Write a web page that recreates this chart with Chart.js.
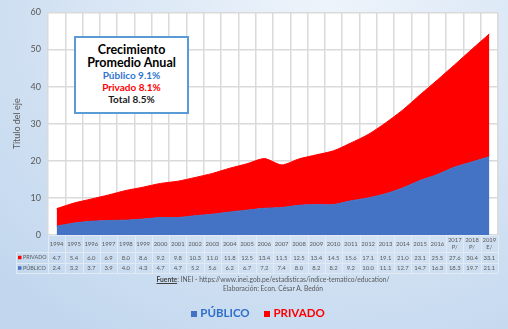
<!DOCTYPE html>
<html lang="es">
<head>
<meta charset="utf-8">
<title>Matrícula pública y privada</title>
<script src="https://cdn.jsdelivr.net/npm/chart.js@4.4.1/dist/chart.umd.min.js"></script>
<style>
  body { margin: 0; }
  #wrap {
    position: relative; width: 508px; height: 329px; overflow: hidden;
    background: radial-gradient(ellipse 90% 120% at 65% 0%, #eef4fb 0%, #d6e4f4 55%, #c2d7ee 100%);
    font-family: Lato, "Open Sans", sans-serif;
  }
  #chart { position: absolute; left: 0; top: 0; }
  #growth {
    position: absolute; left: 74px; top: 36px; width: 111px; height: 69px;
    background: #fff; border: 2px solid #5b9bd5; text-align: center;
    font-weight: bold; line-height: 12px; padding-top: 5px;
  }
  #growth .big { font-size: 12.5px; color: #000; line-height: 13px; }
  #growth .small { font-size: 10px; }
  #source {
    position: absolute; left: 0; width: 546px; top: 275px; text-align: center;
    font-size: 6.7px; line-height: 9px; color: #595959;
  }
  #source b { text-decoration: underline; color: #404040; }
  #legend {
    position: absolute; top: 304px; left: 0; width: 516px; text-align: center;
    font-size: 11.5px; font-weight: bold; line-height: 18px;
  }
  #legend span { margin: 0 6px; }
  #legend i { display: inline-block; width: 6px; height: 6px; margin-right: 3px; vertical-align: 0px; }
</style>
</head>
<body>
<div id="wrap">
  <canvas id="chart" width="508" height="329"></canvas>
  <div id="growth">
    <div class="big">Crecimiento</div>
    <div class="big">Promedio Anual</div>
    <div class="small" style="color:#2e75d0">Público 9.1%</div>
    <div class="small" style="color:#ff0000">Privado 8.1%</div>
    <div class="small" style="color:#1a1a1a">Total 8.5%</div>
  </div>
  <div id="source">
    <div><b>Fuente</b>: INEI - https://www.inei.gob.pe/estadisticas/indice-tematico/education/</div>
    <div>Elaboración: Econ. César A. Bedón</div>
  </div>
  <div id="legend">
    <span style="color:#2e6fc9"><i style="background:#4472c4"></i>PÚBLICO</span>
    <span style="color:#ff0000"><i style="background:#ff0000"></i>PRIVADO</span>
  </div>
</div>
<script>
// enrolment by sector, 1994-2019 (2017-2018 provisional, 2019 estimated)
const years = ['1994', '1995', '1996', '1997', '1998', '1999', '2000', '2001', '2002', '2003',
  '2004', '2005', '2006', '2007', '2008', '2009', '2010', '2011', '2012', '2013',
  '2014', '2015', '2016', '2017', '2018', '2019'];
const yearNotes = ['', '', '', '', '', '', '', '', '', '', '', '', '', '', '', '', '', '', '', '', '', '', '', 'P/', 'P/', 'E/'];
const privado = [4.7, 5.4, 6.0, 6.9, 8.0, 8.6, 9.2, 9.8, 10.3, 11.0, 11.8, 12.5, 13.4,
  11.5, 12.5, 13.4, 14.5, 15.6, 17.1, 19.1, 21.0, 23.1, 25.5, 27.6, 30.4, 33.1];
const publico = [2.4, 3.2, 3.7, 3.9, 4.0, 4.3, 4.7, 4.7, 5.2, 5.6, 6.2, 6.7, 7.2,
  7.4, 8.0, 8.2, 8.2, 9.2, 10.0, 11.1, 12.7, 14.7, 16.3, 18.3, 19.7, 21.1];
const yTicks = [0, 10, 20, 30, 40, 50, 60];

const BLUE = '#4472c4';
const RED = '#ff0000';
const GRID = '#dadada';
const TEXT = '#595959';

// white plot background behind the areas
const plotBackground = {
  id: 'plotBackground',
  beforeDraw(chart) {
    const { ctx, chartArea: a } = chart;
    ctx.save();
    ctx.fillStyle = '#fff';
    ctx.fillRect(a.left, a.top, a.right - a.left, a.bottom - a.top);
    ctx.restore();
  },
};

// data table under the x axis, columns follow the category scale
const dataTable = {
  id: 'dataTable',
  afterDraw(chart) {
    const { ctx, chartArea: a, scales: { x } } = chart;
    const colW = (a.right - a.left) / years.length;
    const rows = [a.bottom, a.bottom + 17, a.bottom + 27.5, a.bottom + 38];
    const tableLeft = 16;
    ctx.save();
    ctx.strokeStyle = '#e2eaf4';
    ctx.lineWidth = 1;
    ctx.beginPath();
    for (let i = 0; i <= years.length; i++) {
      const px = Math.round(a.left + i * colW) + 0.5;
      ctx.moveTo(px, rows[0]);
      ctx.lineTo(px, rows[3]);
    }
    ctx.moveTo(tableLeft + 0.5, rows[1]);
    ctx.lineTo(tableLeft + 0.5, rows[3]);
    rows.forEach((ry, k) => {
      const yy = Math.round(ry) + 0.5;
      ctx.moveTo(k === 0 ? a.left : tableLeft, yy);
      ctx.lineTo(a.right, yy);
    });
    ctx.stroke();

    ctx.fillStyle = TEXT;
    ctx.font = '5.9px Lato, sans-serif';
    ctx.textAlign = 'center';
    ctx.textBaseline = 'middle';
    years.forEach((yr, i) => {
      const cx = x.getPixelForValue(i);
      if (yearNotes[i]) {
        ctx.fillText(yr, cx, rows[0] + 5);
        ctx.fillText(yearNotes[i], cx, rows[0] + 12.5);
      } else {
        ctx.fillText(yr, cx, rows[0] + 9);
      }
      ctx.fillText(privado[i].toFixed(1), cx, (rows[1] + rows[2]) / 2 + 0.5);
      ctx.fillText(publico[i].toFixed(1), cx, (rows[2] + rows[3]) / 2 + 0.5);
    });

    // series keys
    const keys = [['PRIVADO', RED, (rows[1] + rows[2]) / 2], ['PÚBLICO', BLUE, (rows[2] + rows[3]) / 2]];
    ctx.textAlign = 'left';
    ctx.font = '5.4px Lato, sans-serif';
    keys.forEach(([name, color, cy]) => {
      ctx.fillStyle = color;
      ctx.fillRect(18, cy - 1.5, 3.5, 3.5);
      ctx.fillStyle = TEXT;
      ctx.fillText(name, 23, cy + 0.5);
    });
    ctx.restore();
  },
};

function initChart() {
  const ctx = document.getElementById('chart').getContext('2d');
  new Chart(ctx, {
    type: 'line',
    data: {
      labels: years,
      datasets: [
        {
          label: 'PÚBLICO',
          data: publico,
          backgroundColor: BLUE,
          borderColor: BLUE,
          borderWidth: 1,
          fill: 'origin',
          tension: 0.25,
          pointRadius: 0,
        },
        {
          label: 'PRIVADO',
          data: privado,
          backgroundColor: RED,
          borderColor: RED,
          borderWidth: 1,
          fill: '-1',
          tension: 0.25,
          pointRadius: 0,
        },
      ],
    },
    options: {
      responsive: false,
      animation: false,
      layout: { padding: { top: 7, right: 10, bottom: 94, left: 0 } },
      plugins: {
        legend: { display: false },
        tooltip: { enabled: false },
      },
      scales: {
        x: {
          offset: true,
          ticks: { display: false },
          grid: { offset: true, color: GRID, lineWidth: 1.5, drawTicks: false },
          border: { display: false },
          afterFit(scale) { scale.height = 0; },
        },
        y: {
          stacked: true,
          min: 0,
          max: 60,
          afterBuildTicks(scale) { scale.ticks = yTicks.map((v) => ({ value: v })); },
          ticks: { color: TEXT, padding: 7, font: { family: 'Lato', size: 9 } },
          grid: { color: GRID, lineWidth: 1.5, drawTicks: false },
          border: { display: false },
          title: {
            display: true,
            text: 'Título del eje',
            color: TEXT,
            font: { family: 'Lato', size: 9 },
            padding: { top: 12, bottom: 0 },
          },
          afterFit(scale) { scale.width = 48; },
        },
      },
    },
    plugins: [plotBackground, dataTable],
  });
}

document.addEventListener('DOMContentLoaded', initChart);
</script>
</body>
</html>
